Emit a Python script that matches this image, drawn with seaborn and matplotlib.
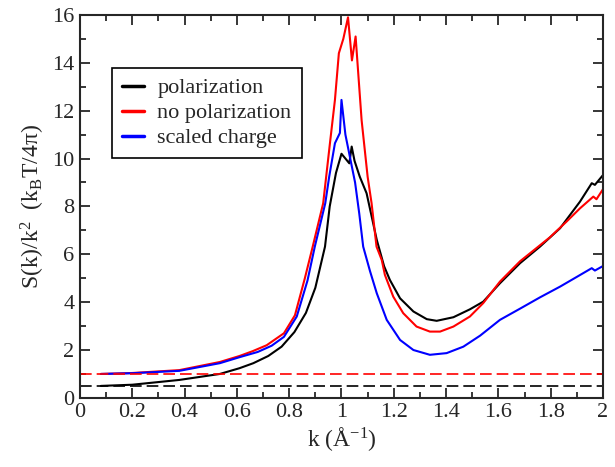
import numpy as np
import pandas as pd
import seaborn as sns
from matplotlib import pyplot as plt
from matplotlib.ticker import MultipleLocator, FuncFormatter

# Values
k_pol = [0.08, 0.2, 0.38, 0.535, 0.61, 0.663, 0.72, 0.771, 0.82, 0.864, 0.9, 0.937,
         0.955, 0.979, 1.0, 1.03, 1.039, 1.05, 1.07, 1.096, 1.135, 1.163, 1.185, 1.224,
         1.275, 1.326, 1.364, 1.428, 1.491, 1.542, 1.606, 1.683, 1.759, 1.836, 1.912,
         1.957, 1.969, 2.0]
s_pol = [0.5, 0.55, 0.75, 1.0, 1.24, 1.45, 1.75, 2.14, 2.75, 3.55, 4.6, 6.32,
         8.0, 9.4, 10.2, 9.8, 10.5, 9.9, 9.24, 8.55, 6.6, 5.5, 4.93, 4.16,
         3.61, 3.29, 3.22, 3.37, 3.70, 4.02, 4.79, 5.63, 6.32, 7.09, 8.2,
         8.97, 8.90, 9.31]

k_nopol = [0.08, 0.2, 0.38, 0.535, 0.61, 0.66, 0.714, 0.78, 0.822, 0.86, 0.89, 0.93,
           0.956, 0.975, 0.99, 1.007, 1.025, 1.04, 1.054, 1.077, 1.10, 1.115, 1.134,
           1.154, 1.166, 1.198, 1.236, 1.287, 1.338, 1.377, 1.428, 1.491, 1.542,
           1.606, 1.683, 1.797, 1.861, 1.912, 1.963, 1.975, 2.0]
s_nopol = [1.0, 1.04, 1.16, 1.5, 1.75, 1.95, 2.2, 2.7, 3.45, 5.0, 6.32, 8.13,
           10.65, 12.45, 14.4, 15.0, 15.9, 14.1, 15.1, 11.6, 9.24, 8.14, 6.32,
           5.76, 5.14, 4.23, 3.54, 2.98, 2.77, 2.77, 2.98, 3.40, 3.96,
           4.86, 5.71, 6.71, 7.37, 7.92, 8.41, 8.3, 8.72]

k_scaled = [0.08, 0.2, 0.38, 0.535, 0.61, 0.68, 0.733, 0.78, 0.829, 0.87, 0.898, 0.938,
            0.953, 0.975, 0.994, 1.0, 1.015, 1.032, 1.052, 1.068, 1.083, 1.109, 1.135,
            1.173, 1.224, 1.275, 1.338, 1.402, 1.466, 1.53, 1.606, 1.683, 1.759,
            1.836, 1.899, 1.957, 1.969, 2.0]
s_scaled = [1.0, 1.03, 1.13, 1.45, 1.7, 1.92, 2.18, 2.55, 3.4, 4.9, 6.32, 8.13,
            9.24, 10.64, 11.07, 12.45, 11.0, 10.08, 9.0, 7.7, 6.32, 5.3, 4.37,
            3.26, 2.42, 2.0, 1.80, 1.87, 2.14, 2.6, 3.26, 3.73, 4.2,
            4.65, 5.05, 5.42, 5.32, 5.51]

labels = ["polarization", "no polarization", "scaled charge"]
colors = ["black", "red", "blue"]
limits = {"polarization": 0.5, "no polarization": 1.0}

sns.set_style("ticks")
plt.rcParams["font.family"] = ["Liberation Serif", "DejaVu Serif"]
plt.rcParams["mathtext.fontset"] = "custom"
plt.rcParams["mathtext.rm"] = "Liberation Serif"
plt.rcParams["mathtext.it"] = "Liberation Serif:italic"

df = pd.concat([
    pd.DataFrame({"k": k_pol, "S": s_pol, "model": labels[0]}),
    pd.DataFrame({"k": k_nopol, "S": s_nopol, "model": labels[1]}),
    pd.DataFrame({"k": k_scaled, "S": s_scaled, "model": labels[2]}),
])

fig = plt.figure(figsize=(6.15, 4.67), dpi=100)
ax = fig.add_axes([0.130, 0.148, 0.8505, 0.820])

sns.lineplot(data=df, x="k", y="S", hue="model", palette=dict(zip(labels, colors)),
             estimator=None, sort=False, lw=1.5, ax=ax)

# limiting values as dashed lines
for name, val in limits.items():
    ax.axhline(val, color=colors[labels.index(name)], lw=1.2, ls=(0, (7, 3)))

ax.set_xlim(0, 2)
ax.set_ylim(0, 16)
ax.xaxis.set_major_locator(MultipleLocator(0.2))
ax.xaxis.set_minor_locator(MultipleLocator(0.1))
ax.yaxis.set_major_locator(MultipleLocator(2))
ax.yaxis.set_minor_locator(MultipleLocator(1))
ax.xaxis.set_major_formatter(FuncFormatter(lambda v, p: f"{v:g}"))
ax.tick_params(which="both", direction="in", top=True, right=True, width=1.3,
               labelsize=16, pad=4)
ax.tick_params(which="major", length=7)
ax.tick_params(which="minor", length=4)
for sp in ax.spines.values():
    sp.set_linewidth(1.5)

ax.set_xlabel("k (Å$^{\\mathregular{-1}}$)", fontsize=17, labelpad=2)
ax.set_ylabel("S(k)/k$^{\\mathregular{2}}$  (k$_{\\mathregular{B}}$T/4π)", fontsize=17, labelpad=4)

leg = ax.legend(loc="upper left", bbox_to_anchor=(0.061, 0.862), borderaxespad=0,
                fontsize=16, handlelength=1.0, handletextpad=0.6, labelspacing=0.2,
                borderpad=0.45, fancybox=False, framealpha=1, edgecolor="black")
leg.get_frame().set_linewidth(1.2)
for line in leg.get_lines():
    line.set_linewidth(2.5)

fig.savefig("out.png", dpi=100)
